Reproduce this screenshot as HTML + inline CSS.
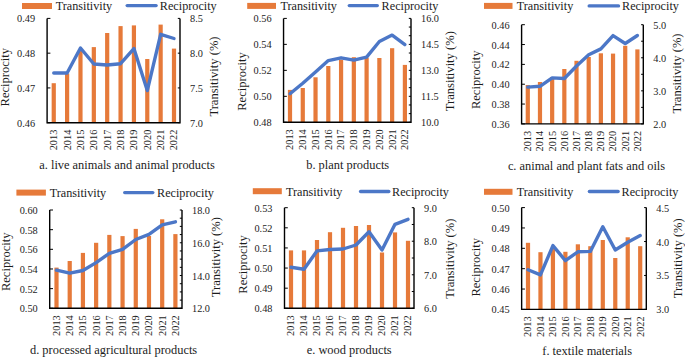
<!DOCTYPE html><html><head><meta charset="utf-8"><style>html,body{margin:0;padding:0;background:#fff;width:685px;height:357px;overflow:hidden}svg{display:block}text{font-family:"Liberation Serif",serif;fill:#1c1c1c}</style></head><body>
<svg width="685" height="357" viewBox="0 0 685 357">
<rect width="685" height="357" fill="#fff"/>
<rect x="51.65" y="83.2" width="4.2" height="39.5" fill="#E67A3A"/>
<rect x="65.01" y="73.5" width="4.2" height="49.2" fill="#E67A3A"/>
<rect x="78.37" y="50.5" width="4.2" height="72.2" fill="#E67A3A"/>
<rect x="91.73" y="47.1" width="4.2" height="75.6" fill="#E67A3A"/>
<rect x="105.09" y="33" width="4.2" height="89.7" fill="#E67A3A"/>
<rect x="118.46" y="26.1" width="4.2" height="96.6" fill="#E67A3A"/>
<rect x="131.82" y="25.4" width="4.2" height="97.3" fill="#E67A3A"/>
<rect x="145.18" y="59" width="4.2" height="63.7" fill="#E67A3A"/>
<rect x="158.54" y="24.6" width="4.2" height="98.1" fill="#E67A3A"/>
<rect x="171.9" y="48.6" width="4.2" height="74.1" fill="#E67A3A"/>
<polyline points="53.75,73 67.11,73 80.47,48 93.83,64 107.19,65 120.56,63.7 133.92,48.6 147.28,90.6 160.64,34.3 174,38.5" fill="none" stroke="#4C77C7" stroke-width="3.4" stroke-linejoin="round" stroke-linecap="round"/>
<path d="M47.1,18.4V122.7H180V18.4" fill="none" stroke="#000" stroke-width="1.4"/>
<path d="M47.1,122.7h3.3" stroke="#000" stroke-width="1"/>
<text x="35.1" y="126.7" font-size="10.3" text-anchor="end">0.46</text>
<path d="M47.1,87.93h3.3" stroke="#000" stroke-width="1"/>
<text x="35.1" y="91.93" font-size="10.3" text-anchor="end">0.47</text>
<path d="M47.1,53.17h3.3" stroke="#000" stroke-width="1"/>
<text x="35.1" y="57.17" font-size="10.3" text-anchor="end">0.48</text>
<path d="M47.1,18.4h3.3" stroke="#000" stroke-width="1"/>
<text x="35.1" y="22.4" font-size="10.3" text-anchor="end">0.49</text>
<path d="M180,122.7h-2.2" stroke="#000" stroke-width="1"/>
<text x="190" y="126.7" font-size="10.3">7.0</text>
<path d="M180,87.93h-2.2" stroke="#000" stroke-width="1"/>
<text x="190" y="91.93" font-size="10.3">7.5</text>
<path d="M180,53.17h-2.2" stroke="#000" stroke-width="1"/>
<text x="190" y="57.17" font-size="10.3">8.0</text>
<path d="M180,18.4h-2.2" stroke="#000" stroke-width="1"/>
<text x="190" y="22.4" font-size="10.3">8.5</text>
<text transform="translate(57.15,129.7) rotate(-90)" font-size="10.3" text-anchor="end">2013</text>
<text transform="translate(70.51,129.7) rotate(-90)" font-size="10.3" text-anchor="end">2014</text>
<text transform="translate(83.87,129.7) rotate(-90)" font-size="10.3" text-anchor="end">2015</text>
<text transform="translate(97.23,129.7) rotate(-90)" font-size="10.3" text-anchor="end">2016</text>
<text transform="translate(110.59,129.7) rotate(-90)" font-size="10.3" text-anchor="end">2017</text>
<text transform="translate(123.96,129.7) rotate(-90)" font-size="10.3" text-anchor="end">2018</text>
<text transform="translate(137.32,129.7) rotate(-90)" font-size="10.3" text-anchor="end">2019</text>
<text transform="translate(150.68,129.7) rotate(-90)" font-size="10.3" text-anchor="end">2020</text>
<text transform="translate(164.04,129.7) rotate(-90)" font-size="10.3" text-anchor="end">2021</text>
<text transform="translate(177.4,129.7) rotate(-90)" font-size="10.3" text-anchor="end">2022</text>
<rect x="22" y="3" width="30" height="6" fill="#E67A3A"/>
<text x="55.7" y="10" font-size="12.2">Transitivity</text>
<path d="M127.2,5.6H156.1" stroke="#4C77C7" stroke-width="3.4" stroke-linecap="round"/>
<text x="159.8" y="10" font-size="12.2">Reciprocity</text>
<text transform="translate(9,77.2) rotate(-90)" font-size="12.55" text-anchor="middle">Reciprocity</text>
<text transform="translate(217.8,76.5) rotate(-90)" font-size="12.55" text-anchor="middle">Transitivity (%)</text>
<text x="127" y="168.7" font-size="12.4" text-anchor="middle">a. live animals and animal products</text>
<rect x="287.9" y="89.9" width="4.2" height="32.4" fill="#E67A3A"/>
<rect x="300.67" y="88" width="4.2" height="34.3" fill="#E67A3A"/>
<rect x="313.43" y="77.3" width="4.2" height="45" fill="#E67A3A"/>
<rect x="326.2" y="66" width="4.2" height="56.3" fill="#E67A3A"/>
<rect x="338.97" y="59.6" width="4.2" height="62.7" fill="#E67A3A"/>
<rect x="351.73" y="57.2" width="4.2" height="65.1" fill="#E67A3A"/>
<rect x="364.5" y="57.7" width="4.2" height="64.6" fill="#E67A3A"/>
<rect x="377.27" y="58" width="4.2" height="64.3" fill="#E67A3A"/>
<rect x="390.03" y="48.2" width="4.2" height="74.1" fill="#E67A3A"/>
<rect x="402.8" y="64.9" width="4.2" height="57.4" fill="#E67A3A"/>
<polyline points="290,93.7 302.77,83.2 315.53,71.9 328.3,60.6 341.07,57.8 353.83,60.1 366.6,57.1 379.37,41.5 392.13,35.1 404.9,44.6" fill="none" stroke="#4C77C7" stroke-width="3.4" stroke-linejoin="round" stroke-linecap="round"/>
<path d="M283.55,18.4V122.3H411V18.4" fill="none" stroke="#000" stroke-width="1.4"/>
<path d="M283.55,122.3h3.3" stroke="#000" stroke-width="1"/>
<text x="271.55" y="126.3" font-size="10.3" text-anchor="end">0.48</text>
<path d="M283.55,96.32h3.3" stroke="#000" stroke-width="1"/>
<text x="271.55" y="100.32" font-size="10.3" text-anchor="end">0.50</text>
<path d="M283.55,70.35h3.3" stroke="#000" stroke-width="1"/>
<text x="271.55" y="74.35" font-size="10.3" text-anchor="end">0.52</text>
<path d="M283.55,44.37h3.3" stroke="#000" stroke-width="1"/>
<text x="271.55" y="48.37" font-size="10.3" text-anchor="end">0.54</text>
<path d="M283.55,18.4h3.3" stroke="#000" stroke-width="1"/>
<text x="271.55" y="22.4" font-size="10.3" text-anchor="end">0.56</text>
<path d="M411,122.3h-2.2" stroke="#000" stroke-width="1"/>
<text x="421" y="126.3" font-size="10.3">10.0</text>
<path d="M411,113.64h-2.2" stroke="#000" stroke-width="1"/>
<path d="M411,104.98h-2.2" stroke="#000" stroke-width="1"/>
<path d="M411,96.32h-2.2" stroke="#000" stroke-width="1"/>
<text x="421" y="100.32" font-size="10.3">11.5</text>
<path d="M411,87.67h-2.2" stroke="#000" stroke-width="1"/>
<path d="M411,79.01h-2.2" stroke="#000" stroke-width="1"/>
<path d="M411,70.35h-2.2" stroke="#000" stroke-width="1"/>
<text x="421" y="74.35" font-size="10.3">13.0</text>
<path d="M411,61.69h-2.2" stroke="#000" stroke-width="1"/>
<path d="M411,53.03h-2.2" stroke="#000" stroke-width="1"/>
<path d="M411,44.38h-2.2" stroke="#000" stroke-width="1"/>
<text x="421" y="48.38" font-size="10.3">14.5</text>
<path d="M411,35.72h-2.2" stroke="#000" stroke-width="1"/>
<path d="M411,27.06h-2.2" stroke="#000" stroke-width="1"/>
<path d="M411,18.4h-2.2" stroke="#000" stroke-width="1"/>
<text x="421" y="22.4" font-size="10.3">16.0</text>
<text transform="translate(293.4,129.3) rotate(-90)" font-size="10.3" text-anchor="end">2013</text>
<text transform="translate(306.17,129.3) rotate(-90)" font-size="10.3" text-anchor="end">2014</text>
<text transform="translate(318.93,129.3) rotate(-90)" font-size="10.3" text-anchor="end">2015</text>
<text transform="translate(331.7,129.3) rotate(-90)" font-size="10.3" text-anchor="end">2016</text>
<text transform="translate(344.47,129.3) rotate(-90)" font-size="10.3" text-anchor="end">2017</text>
<text transform="translate(357.23,129.3) rotate(-90)" font-size="10.3" text-anchor="end">2018</text>
<text transform="translate(370,129.3) rotate(-90)" font-size="10.3" text-anchor="end">2019</text>
<text transform="translate(382.77,129.3) rotate(-90)" font-size="10.3" text-anchor="end">2020</text>
<text transform="translate(395.53,129.3) rotate(-90)" font-size="10.3" text-anchor="end">2021</text>
<text transform="translate(408.3,129.3) rotate(-90)" font-size="10.3" text-anchor="end">2022</text>
<rect x="247.2" y="2.9" width="28.8" height="6" fill="#E67A3A"/>
<text x="280.5" y="10" font-size="12.2">Transitivity</text>
<path d="M349.3,5.6H377.3" stroke="#4C77C7" stroke-width="3.4" stroke-linecap="round"/>
<text x="381.6" y="10" font-size="12.2">Reciprocity</text>
<text transform="translate(245.6,81.5) rotate(-90)" font-size="12.55" text-anchor="middle">Reciprocity</text>
<text transform="translate(454.1,71.2) rotate(-90)" font-size="12.55" text-anchor="middle">Transitivity (%)</text>
<text x="347.7" y="169.1" font-size="12.4" text-anchor="middle">b. plant products</text>
<rect x="525.7" y="85" width="4.2" height="38.9" fill="#E67A3A"/>
<rect x="537.88" y="82" width="4.2" height="41.9" fill="#E67A3A"/>
<rect x="550.06" y="77" width="4.2" height="46.9" fill="#E67A3A"/>
<rect x="562.23" y="69" width="4.2" height="54.9" fill="#E67A3A"/>
<rect x="574.41" y="60.8" width="4.2" height="63.1" fill="#E67A3A"/>
<rect x="586.59" y="57" width="4.2" height="66.9" fill="#E67A3A"/>
<rect x="598.77" y="53.3" width="4.2" height="70.6" fill="#E67A3A"/>
<rect x="610.94" y="53.6" width="4.2" height="70.3" fill="#E67A3A"/>
<rect x="623.12" y="45.8" width="4.2" height="78.1" fill="#E67A3A"/>
<rect x="635.3" y="49.4" width="4.2" height="74.5" fill="#E67A3A"/>
<polyline points="527.8,87.1 539.98,86.3 552.16,77.9 564.33,78.5 576.51,66 588.69,54.8 600.87,48.9 613.04,35.6 625.22,43.5 637.4,35.5" fill="none" stroke="#4C77C7" stroke-width="3.4" stroke-linejoin="round" stroke-linecap="round"/>
<path d="M521.6,24.7V123.9H643.3V24.7" fill="none" stroke="#000" stroke-width="1.4"/>
<path d="M521.6,123.9h3.3" stroke="#000" stroke-width="1"/>
<text x="509.6" y="127.9" font-size="10.3" text-anchor="end">0.36</text>
<path d="M521.6,104.06h3.3" stroke="#000" stroke-width="1"/>
<text x="509.6" y="108.06" font-size="10.3" text-anchor="end">0.38</text>
<path d="M521.6,84.22h3.3" stroke="#000" stroke-width="1"/>
<text x="509.6" y="88.22" font-size="10.3" text-anchor="end">0.40</text>
<path d="M521.6,64.38h3.3" stroke="#000" stroke-width="1"/>
<text x="509.6" y="68.38" font-size="10.3" text-anchor="end">0.42</text>
<path d="M521.6,44.54h3.3" stroke="#000" stroke-width="1"/>
<text x="509.6" y="48.54" font-size="10.3" text-anchor="end">0.44</text>
<path d="M521.6,24.7h3.3" stroke="#000" stroke-width="1"/>
<text x="509.6" y="28.7" font-size="10.3" text-anchor="end">0.46</text>
<path d="M643.3,123.9h-2.2" stroke="#000" stroke-width="1"/>
<text x="653.3" y="127.9" font-size="10.3">2.0</text>
<path d="M643.3,107.37h-2.2" stroke="#000" stroke-width="1"/>
<path d="M643.3,90.83h-2.2" stroke="#000" stroke-width="1"/>
<text x="653.3" y="94.83" font-size="10.3">3.0</text>
<path d="M643.3,74.3h-2.2" stroke="#000" stroke-width="1"/>
<path d="M643.3,57.77h-2.2" stroke="#000" stroke-width="1"/>
<text x="653.3" y="61.77" font-size="10.3">4.0</text>
<path d="M643.3,41.23h-2.2" stroke="#000" stroke-width="1"/>
<path d="M643.3,24.7h-2.2" stroke="#000" stroke-width="1"/>
<text x="653.3" y="28.7" font-size="10.3">5.0</text>
<text transform="translate(531.2,130.9) rotate(-90)" font-size="10.3" text-anchor="end">2013</text>
<text transform="translate(543.38,130.9) rotate(-90)" font-size="10.3" text-anchor="end">2014</text>
<text transform="translate(555.56,130.9) rotate(-90)" font-size="10.3" text-anchor="end">2015</text>
<text transform="translate(567.73,130.9) rotate(-90)" font-size="10.3" text-anchor="end">2016</text>
<text transform="translate(579.91,130.9) rotate(-90)" font-size="10.3" text-anchor="end">2017</text>
<text transform="translate(592.09,130.9) rotate(-90)" font-size="10.3" text-anchor="end">2018</text>
<text transform="translate(604.27,130.9) rotate(-90)" font-size="10.3" text-anchor="end">2019</text>
<text transform="translate(616.44,130.9) rotate(-90)" font-size="10.3" text-anchor="end">2020</text>
<text transform="translate(628.62,130.9) rotate(-90)" font-size="10.3" text-anchor="end">2021</text>
<text transform="translate(640.8,130.9) rotate(-90)" font-size="10.3" text-anchor="end">2022</text>
<rect x="484" y="2.9" width="28.5" height="6" fill="#E67A3A"/>
<text x="516.8" y="10" font-size="12.2">Transitivity</text>
<path d="M589.2,5.9H618.5" stroke="#4C77C7" stroke-width="3.4" stroke-linecap="round"/>
<text x="622" y="10" font-size="12.2">Reciprocity</text>
<text transform="translate(479.5,79.8) rotate(-90)" font-size="12.55" text-anchor="middle">Reciprocity</text>
<text transform="translate(681.1,73.5) rotate(-90)" font-size="12.55" text-anchor="middle">Transitivity (%)</text>
<text x="586.5" y="169.6" font-size="12.4" text-anchor="middle">c. animal and plant fats and oils</text>
<rect x="54.4" y="267.6" width="4.2" height="40.7" fill="#E67A3A"/>
<rect x="67.61" y="261" width="4.2" height="47.3" fill="#E67A3A"/>
<rect x="80.82" y="252.9" width="4.2" height="55.4" fill="#E67A3A"/>
<rect x="94.03" y="242.8" width="4.2" height="65.5" fill="#E67A3A"/>
<rect x="107.24" y="234.9" width="4.2" height="73.4" fill="#E67A3A"/>
<rect x="120.46" y="236.1" width="4.2" height="72.2" fill="#E67A3A"/>
<rect x="133.67" y="228.9" width="4.2" height="79.4" fill="#E67A3A"/>
<rect x="146.88" y="236" width="4.2" height="72.3" fill="#E67A3A"/>
<rect x="160.09" y="219.3" width="4.2" height="89" fill="#E67A3A"/>
<rect x="173.3" y="234.1" width="4.2" height="74.2" fill="#E67A3A"/>
<polyline points="56.5,270.2 69.71,273.2 82.92,270.5 96.13,262.6 109.34,253.3 122.56,249.3 135.77,239.5 148.98,234.4 162.19,224.8 175.4,221.8" fill="none" stroke="#4C77C7" stroke-width="3.4" stroke-linejoin="round" stroke-linecap="round"/>
<path d="M49.7,210V308.3H182V210" fill="none" stroke="#000" stroke-width="1.4"/>
<path d="M49.7,308.3h3.3" stroke="#000" stroke-width="1"/>
<text x="37.7" y="312.3" font-size="10.3" text-anchor="end">0.50</text>
<path d="M49.7,288.64h3.3" stroke="#000" stroke-width="1"/>
<text x="37.7" y="292.64" font-size="10.3" text-anchor="end">0.52</text>
<path d="M49.7,268.98h3.3" stroke="#000" stroke-width="1"/>
<text x="37.7" y="272.98" font-size="10.3" text-anchor="end">0.54</text>
<path d="M49.7,249.32h3.3" stroke="#000" stroke-width="1"/>
<text x="37.7" y="253.32" font-size="10.3" text-anchor="end">0.56</text>
<path d="M49.7,229.66h3.3" stroke="#000" stroke-width="1"/>
<text x="37.7" y="233.66" font-size="10.3" text-anchor="end">0.58</text>
<path d="M49.7,210h3.3" stroke="#000" stroke-width="1"/>
<text x="37.7" y="214" font-size="10.3" text-anchor="end">0.60</text>
<path d="M182,308.3h-2.2" stroke="#000" stroke-width="1"/>
<text x="192" y="312.3" font-size="10.3">12.0</text>
<path d="M182,300.11h-2.2" stroke="#000" stroke-width="1"/>
<path d="M182,291.92h-2.2" stroke="#000" stroke-width="1"/>
<path d="M182,283.73h-2.2" stroke="#000" stroke-width="1"/>
<path d="M182,275.53h-2.2" stroke="#000" stroke-width="1"/>
<text x="192" y="279.53" font-size="10.3">14.0</text>
<path d="M182,267.34h-2.2" stroke="#000" stroke-width="1"/>
<path d="M182,259.15h-2.2" stroke="#000" stroke-width="1"/>
<path d="M182,250.96h-2.2" stroke="#000" stroke-width="1"/>
<path d="M182,242.77h-2.2" stroke="#000" stroke-width="1"/>
<text x="192" y="246.77" font-size="10.3">16.0</text>
<path d="M182,234.57h-2.2" stroke="#000" stroke-width="1"/>
<path d="M182,226.38h-2.2" stroke="#000" stroke-width="1"/>
<path d="M182,218.19h-2.2" stroke="#000" stroke-width="1"/>
<path d="M182,210h-2.2" stroke="#000" stroke-width="1"/>
<text x="192" y="214" font-size="10.3">18.0</text>
<text transform="translate(59.9,315.3) rotate(-90)" font-size="10.3" text-anchor="end">2013</text>
<text transform="translate(73.11,315.3) rotate(-90)" font-size="10.3" text-anchor="end">2014</text>
<text transform="translate(86.32,315.3) rotate(-90)" font-size="10.3" text-anchor="end">2015</text>
<text transform="translate(99.53,315.3) rotate(-90)" font-size="10.3" text-anchor="end">2016</text>
<text transform="translate(112.74,315.3) rotate(-90)" font-size="10.3" text-anchor="end">2017</text>
<text transform="translate(125.96,315.3) rotate(-90)" font-size="10.3" text-anchor="end">2018</text>
<text transform="translate(139.17,315.3) rotate(-90)" font-size="10.3" text-anchor="end">2019</text>
<text transform="translate(152.38,315.3) rotate(-90)" font-size="10.3" text-anchor="end">2020</text>
<text transform="translate(165.59,315.3) rotate(-90)" font-size="10.3" text-anchor="end">2021</text>
<text transform="translate(178.8,315.3) rotate(-90)" font-size="10.3" text-anchor="end">2022</text>
<rect x="16.4" y="189.6" width="29.5" height="6" fill="#E67A3A"/>
<text x="49.7" y="197" font-size="12.2">Transitivity</text>
<path d="M124.7,192.6H152.8" stroke="#4C77C7" stroke-width="3.4" stroke-linecap="round"/>
<text x="157" y="197" font-size="12.2">Reciprocity</text>
<text transform="translate(9.7,261.8) rotate(-90)" font-size="12.55" text-anchor="middle">Reciprocity</text>
<text transform="translate(220.3,257.1) rotate(-90)" font-size="12.55" text-anchor="middle">Transitivity (%)</text>
<text x="113.6" y="353.6" font-size="12.4" text-anchor="middle">d. processed agricultural products</text>
<rect x="288.9" y="250.4" width="4.2" height="57.9" fill="#E67A3A"/>
<rect x="301.9" y="250.4" width="4.2" height="57.9" fill="#E67A3A"/>
<rect x="314.9" y="240" width="4.2" height="68.3" fill="#E67A3A"/>
<rect x="327.9" y="232.2" width="4.2" height="76.1" fill="#E67A3A"/>
<rect x="340.9" y="227.8" width="4.2" height="80.5" fill="#E67A3A"/>
<rect x="353.9" y="226" width="4.2" height="82.3" fill="#E67A3A"/>
<rect x="366.9" y="225" width="4.2" height="83.3" fill="#E67A3A"/>
<rect x="379.9" y="252.5" width="4.2" height="55.8" fill="#E67A3A"/>
<rect x="392.9" y="232.4" width="4.2" height="75.9" fill="#E67A3A"/>
<rect x="405.9" y="240.8" width="4.2" height="67.5" fill="#E67A3A"/>
<polyline points="291,267.3 304,269.2 317,250.9 330,249.5 343,249 356,245 369,231.7 382,250 395,224.3 408,219.3" fill="none" stroke="#4C77C7" stroke-width="3.4" stroke-linejoin="round" stroke-linecap="round"/>
<path d="M284.5,207.7V308.3H414V207.7" fill="none" stroke="#000" stroke-width="1.4"/>
<path d="M284.5,308.3h3.3" stroke="#000" stroke-width="1"/>
<text x="272.5" y="312.3" font-size="10.3" text-anchor="end">0.48</text>
<path d="M284.5,288.18h3.3" stroke="#000" stroke-width="1"/>
<text x="272.5" y="292.18" font-size="10.3" text-anchor="end">0.49</text>
<path d="M284.5,268.06h3.3" stroke="#000" stroke-width="1"/>
<text x="272.5" y="272.06" font-size="10.3" text-anchor="end">0.50</text>
<path d="M284.5,247.94h3.3" stroke="#000" stroke-width="1"/>
<text x="272.5" y="251.94" font-size="10.3" text-anchor="end">0.51</text>
<path d="M284.5,227.82h3.3" stroke="#000" stroke-width="1"/>
<text x="272.5" y="231.82" font-size="10.3" text-anchor="end">0.52</text>
<path d="M284.5,207.7h3.3" stroke="#000" stroke-width="1"/>
<text x="272.5" y="211.7" font-size="10.3" text-anchor="end">0.53</text>
<path d="M414,308.3h-2.2" stroke="#000" stroke-width="1"/>
<text x="424" y="312.3" font-size="10.3">6.0</text>
<path d="M414,291.53h-2.2" stroke="#000" stroke-width="1"/>
<path d="M414,274.77h-2.2" stroke="#000" stroke-width="1"/>
<text x="424" y="278.77" font-size="10.3">7.0</text>
<path d="M414,258h-2.2" stroke="#000" stroke-width="1"/>
<path d="M414,241.23h-2.2" stroke="#000" stroke-width="1"/>
<text x="424" y="245.23" font-size="10.3">8.0</text>
<path d="M414,224.47h-2.2" stroke="#000" stroke-width="1"/>
<path d="M414,207.7h-2.2" stroke="#000" stroke-width="1"/>
<text x="424" y="211.7" font-size="10.3">9.0</text>
<text transform="translate(294.4,315.3) rotate(-90)" font-size="10.3" text-anchor="end">2013</text>
<text transform="translate(307.4,315.3) rotate(-90)" font-size="10.3" text-anchor="end">2014</text>
<text transform="translate(320.4,315.3) rotate(-90)" font-size="10.3" text-anchor="end">2015</text>
<text transform="translate(333.4,315.3) rotate(-90)" font-size="10.3" text-anchor="end">2016</text>
<text transform="translate(346.4,315.3) rotate(-90)" font-size="10.3" text-anchor="end">2017</text>
<text transform="translate(359.4,315.3) rotate(-90)" font-size="10.3" text-anchor="end">2018</text>
<text transform="translate(372.4,315.3) rotate(-90)" font-size="10.3" text-anchor="end">2019</text>
<text transform="translate(385.4,315.3) rotate(-90)" font-size="10.3" text-anchor="end">2020</text>
<text transform="translate(398.4,315.3) rotate(-90)" font-size="10.3" text-anchor="end">2021</text>
<text transform="translate(411.4,315.3) rotate(-90)" font-size="10.3" text-anchor="end">2022</text>
<rect x="252.8" y="188.2" width="29" height="6" fill="#E67A3A"/>
<text x="286" y="195.5" font-size="12.2">Transitivity</text>
<path d="M360.6,191.5H388.8" stroke="#4C77C7" stroke-width="3.4" stroke-linecap="round"/>
<text x="392" y="195.5" font-size="12.2">Reciprocity</text>
<text transform="translate(247.2,264.4) rotate(-90)" font-size="12.55" text-anchor="middle">Reciprocity</text>
<text transform="translate(453.7,258.6) rotate(-90)" font-size="12.55" text-anchor="middle">Transitivity (%)</text>
<text x="349.2" y="353.6" font-size="12.4" text-anchor="middle">e. wood products</text>
<rect x="525.9" y="242.8" width="4.2" height="66.6" fill="#E67A3A"/>
<rect x="538.37" y="252.2" width="4.2" height="57.2" fill="#E67A3A"/>
<rect x="550.83" y="249" width="4.2" height="60.4" fill="#E67A3A"/>
<rect x="563.3" y="251.8" width="4.2" height="57.6" fill="#E67A3A"/>
<rect x="575.77" y="244.3" width="4.2" height="65.1" fill="#E67A3A"/>
<rect x="588.23" y="246.2" width="4.2" height="63.2" fill="#E67A3A"/>
<rect x="600.7" y="240" width="4.2" height="69.4" fill="#E67A3A"/>
<rect x="613.17" y="258" width="4.2" height="51.4" fill="#E67A3A"/>
<rect x="625.63" y="237.3" width="4.2" height="72.1" fill="#E67A3A"/>
<rect x="638.1" y="246.2" width="4.2" height="63.2" fill="#E67A3A"/>
<polyline points="528,269.8 540.47,274.9 552.93,245.6 565.4,260.6 577.87,251.8 590.33,251.4 602.8,226.8 615.27,250 627.73,242.3 640.2,235.6" fill="none" stroke="#4C77C7" stroke-width="3.4" stroke-linejoin="round" stroke-linecap="round"/>
<path d="M521.65,207.6V309.4H646.3V207.6" fill="none" stroke="#000" stroke-width="1.4"/>
<path d="M521.65,309.4h3.3" stroke="#000" stroke-width="1"/>
<text x="509.65" y="313.4" font-size="10.3" text-anchor="end">0.45</text>
<path d="M521.65,289.04h3.3" stroke="#000" stroke-width="1"/>
<text x="509.65" y="293.04" font-size="10.3" text-anchor="end">0.46</text>
<path d="M521.65,268.68h3.3" stroke="#000" stroke-width="1"/>
<text x="509.65" y="272.68" font-size="10.3" text-anchor="end">0.47</text>
<path d="M521.65,248.32h3.3" stroke="#000" stroke-width="1"/>
<text x="509.65" y="252.32" font-size="10.3" text-anchor="end">0.48</text>
<path d="M521.65,227.96h3.3" stroke="#000" stroke-width="1"/>
<text x="509.65" y="231.96" font-size="10.3" text-anchor="end">0.49</text>
<path d="M521.65,207.6h3.3" stroke="#000" stroke-width="1"/>
<text x="509.65" y="211.6" font-size="10.3" text-anchor="end">0.50</text>
<path d="M646.3,309.4h-2.2" stroke="#000" stroke-width="1"/>
<text x="656.3" y="313.4" font-size="10.3">3.0</text>
<path d="M646.3,275.47h-2.2" stroke="#000" stroke-width="1"/>
<text x="656.3" y="279.47" font-size="10.3">3.5</text>
<path d="M646.3,241.53h-2.2" stroke="#000" stroke-width="1"/>
<text x="656.3" y="245.53" font-size="10.3">4.0</text>
<path d="M646.3,207.6h-2.2" stroke="#000" stroke-width="1"/>
<text x="656.3" y="211.6" font-size="10.3">4.5</text>
<text transform="translate(531.4,316.4) rotate(-90)" font-size="10.3" text-anchor="end">2013</text>
<text transform="translate(543.87,316.4) rotate(-90)" font-size="10.3" text-anchor="end">2014</text>
<text transform="translate(556.33,316.4) rotate(-90)" font-size="10.3" text-anchor="end">2015</text>
<text transform="translate(568.8,316.4) rotate(-90)" font-size="10.3" text-anchor="end">2016</text>
<text transform="translate(581.27,316.4) rotate(-90)" font-size="10.3" text-anchor="end">2017</text>
<text transform="translate(593.73,316.4) rotate(-90)" font-size="10.3" text-anchor="end">2018</text>
<text transform="translate(606.2,316.4) rotate(-90)" font-size="10.3" text-anchor="end">2019</text>
<text transform="translate(618.67,316.4) rotate(-90)" font-size="10.3" text-anchor="end">2020</text>
<text transform="translate(631.13,316.4) rotate(-90)" font-size="10.3" text-anchor="end">2021</text>
<text transform="translate(643.6,316.4) rotate(-90)" font-size="10.3" text-anchor="end">2022</text>
<rect x="484" y="188.8" width="28.5" height="6" fill="#E67A3A"/>
<text x="516.8" y="195.5" font-size="12.2">Transitivity</text>
<path d="M589.4,191.5H618.1" stroke="#4C77C7" stroke-width="3.4" stroke-linecap="round"/>
<text x="621.5" y="195.5" font-size="12.2">Reciprocity</text>
<text transform="translate(480.2,267.3) rotate(-90)" font-size="12.55" text-anchor="middle">Reciprocity</text>
<text transform="translate(682.1,258.3) rotate(-90)" font-size="12.55" text-anchor="middle">Transitivity (%)</text>
<text x="587.2" y="355.4" font-size="12.4" text-anchor="middle">f. textile materials</text>
</svg></body></html>
